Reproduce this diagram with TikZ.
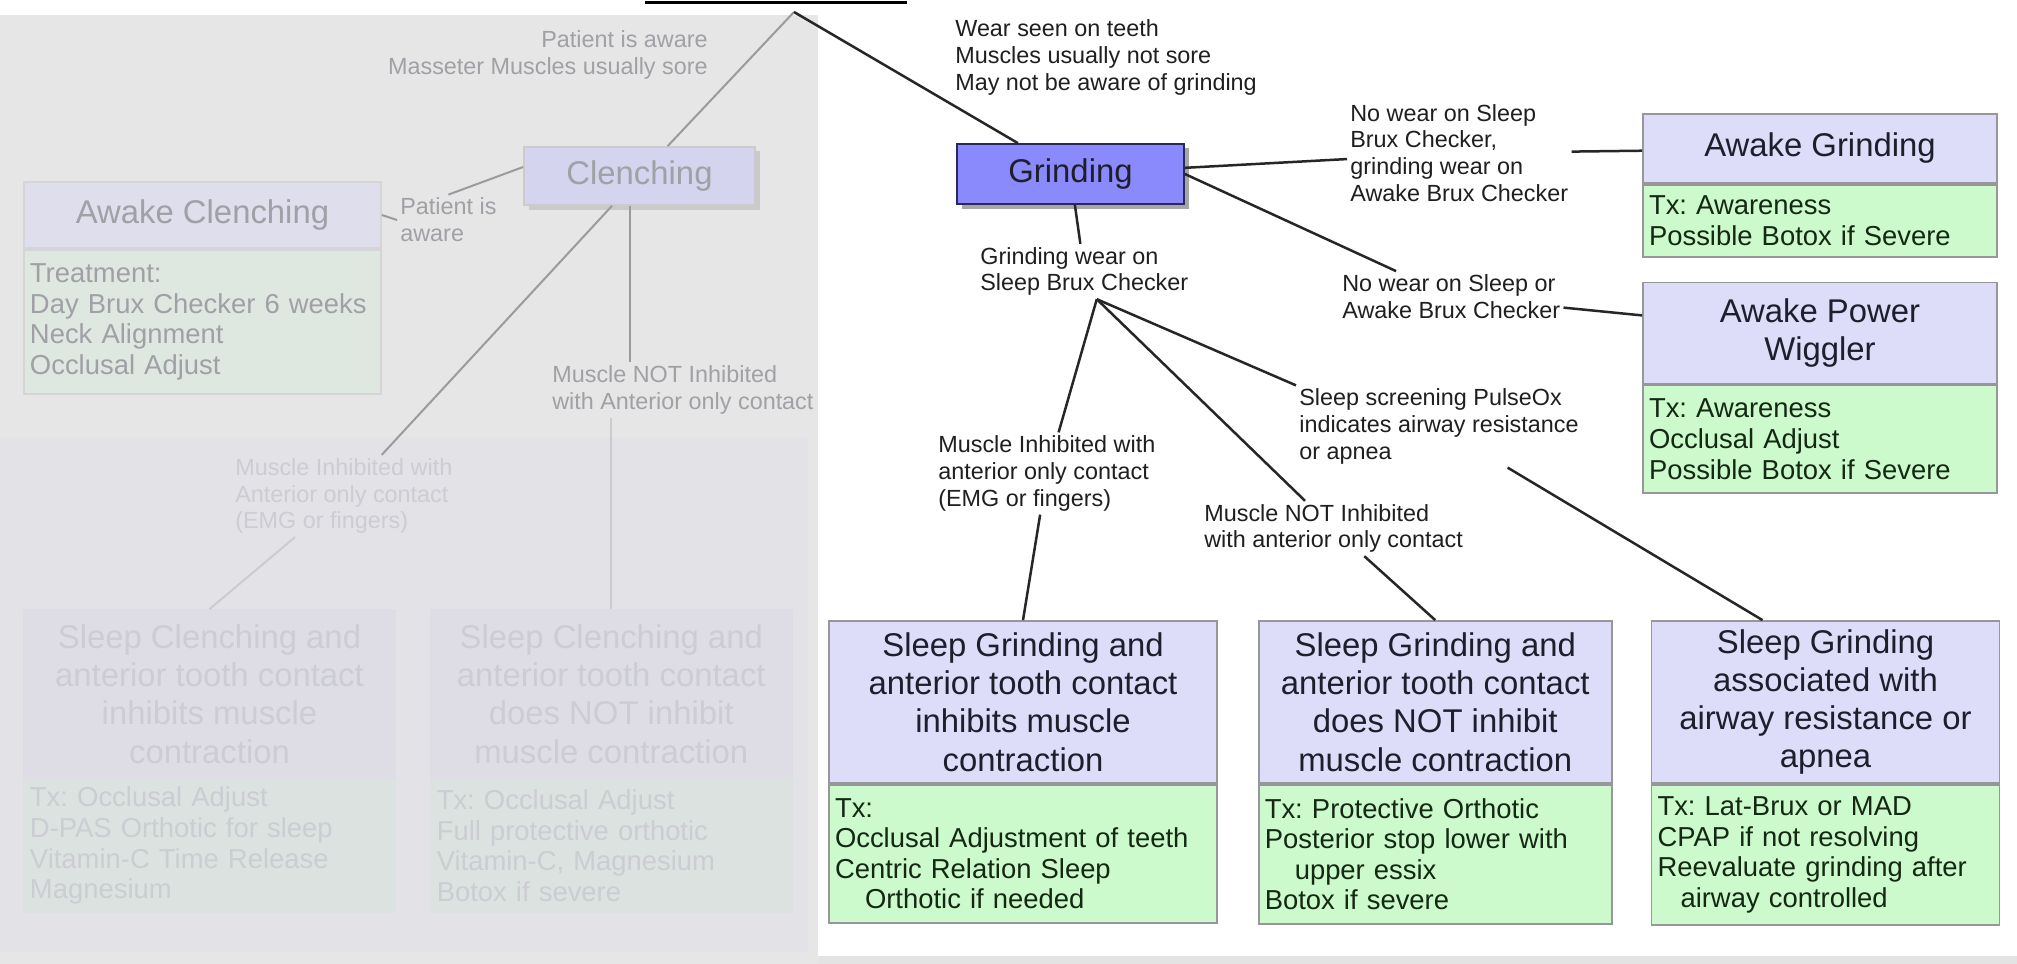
\documentclass[tikz,border=0pt]{standalone}
\usepackage{fontspec}
\setmainfont{Liberation Sans}
\usetikzlibrary{positioning,shadows,calc}
\frenchspacing

\definecolor{panelgray}{RGB}{230,230,230}
\definecolor{lowgray}{RGB}{227,226,230}
\definecolor{ttlfill}{RGB}{221,221,250}
\definecolor{txfill}{RGB}{204,250,204}
\definecolor{boxline}{RGB}{150,150,155}
\definecolor{ttltext}{RGB}{30,30,45}
\definecolor{txtext}{RGB}{20,40,20}
\definecolor{grindfill}{RGB}{138,138,252}
\definecolor{grindline}{RGB}{40,40,90}
\definecolor{fadeline}{RGB}{155,155,158}
\definecolor{fadetext}{RGB}{160,160,166}
\definecolor{fadettl}{RGB}{222,222,236}
\definecolor{fadetx}{RGB}{222,232,224}
\definecolor{paleline}{RGB}{203,203,208}
\definecolor{paletext}{RGB}{204,204,211}
\definecolor{palettl}{RGB}{222,221,229}
\definecolor{paletx}{RGB}{220,226,224}

\def\ttlfont{\fontsize{18.7}{21.8}\selectfont}
\def\txfont{\fontsize{15.6}{17.4}\selectfont}
\def\lblfont{\fontsize{13.3}{15.3}\selectfont}

\tikzset{
	ttl/.style={draw=boxline, line width=0.35mm, fill=ttlfill, text=ttltext, align=center, inner sep=0pt, font=\ttlfont},
	txb/.style={draw=boxline, line width=0.35mm, fill=txfill, text=txtext, align=left, inner xsep=1.2mm, inner ysep=0pt, font=\txfont},
	lbl/.style={align=left, inner sep=0.6mm, text=black!88, font=\lblfont},
	link/.style={line width=0.5mm, black!85},
	grindbox/.style={draw=grindline, line width=0.35mm, fill=grindfill, text=ttltext, font=\ttlfont, minimum width=45.4mm, minimum height=12mm, drop shadow={shadow xshift=0.9mm, shadow yshift=-0.9mm, opacity=0.35, fill=black}},
	% faded left half
	fttl/.style={ttl, draw=boxline!40, fill=fadettl, text=fadetext},
	ftxb/.style={txb, draw=boxline!40, fill=fadetx, text=fadetext},
	fttl2/.style={ttl, draw=palettl, fill=palettl, text=paletext},
	ftxb2/.style={txb, draw=paletx, fill=paletx, text=paletext},
	flbl/.style={lbl, text=fadetext},
	flbl2/.style={lbl, text=paletext},
	flink/.style={line width=0.4mm, fadeline},
	flink2/.style={line width=0.4mm, paleline},
	clenchbox/.style={draw=boxline!50, line width=0.35mm, fill={rgb,255:red,212;green,212;blue,238}, text=fadetext, font=\ttlfont, minimum width=46.2mm, minimum height=11.6mm, drop shadow={shadow xshift=0.9mm, shadow yshift=-0.9mm, opacity=0.12, fill=black}}
}

\begin{document}
\begin{tikzpicture}[x=0.2mm,y=-0.2mm]
			%%%%% START %%%%%
			\useasboundingbox (0,0) rectangle (2017,964);
			\fill[white] (0,0) rectangle (2017,964);
			\fill[panelgray] (0,15) rectangle (818,964);
			\fill[lowgray] (0,437) rectangle (808,952);
			\fill[black!11] (818,956) rectangle (2017,964);
			\draw[line width=0.6mm] (645,2.5) -- (907,2.5);
			
			\coordinate (apex) at (794,12);
			
			% faded clenching side
			\node[clenchbox] (clench) at (639.5,176) {Clenching};
			\node[flbl, anchor=east, align=right] (pam) at (711,55) {Patient is aware\\Masseter Muscles usually sore};
			\node[flbl, anchor=west] (pia) at (397,220) {Patient is\\aware};
			\node[flbl, anchor=west] (mnl) at (549,390) {Muscle NOT Inhibited\\with Anterior only contact};
			\node[flbl2, anchor=west] (mil) at (232,496) {Muscle Inhibited with\\Anterior only contact\\(EMG or fingers)};
			
			\node[fttl, minimum width=71.4mm, minimum height=13.2mm] (acl) at (202.5,215) {Awake Clenching};
			\node[ftxb, below=0pt of acl, text width=69mm, minimum height=28.8mm] (acltx) {Treatment:\\Day Brux Checker 6 weeks\\Neck Alignment\\Occlusal Adjust};
			
			\node[fttl2, minimum width=74.2mm, minimum height=33.6mm] (sc1) at (209.5,694) {Sleep Clenching and\\anterior tooth contact\\inhibits muscle\\contraction};
			\node[ftxb2, below=0pt of sc1, text width=71.8mm, minimum height=26.4mm] (sc1tx) {Tx: Occlusal Adjust\\D-PAS Orthotic for sleep\\Vitamin-C Time Release\\Magnesium};
			\node[fttl2, minimum width=72.2mm, minimum height=33.6mm, right=6.8mm of sc1] (sc2) {Sleep Clenching and\\anterior tooth contact\\does NOT inhibit\\muscle contraction};
			\node[ftxb2, below=0pt of sc2, text width=69.8mm, minimum height=26.4mm] (sc2tx) {Tx: Occlusal Adjust\\Full protective orthotic\\Vitamin-C, Magnesium\\Botox if severe};
			
			\draw[flink] (apex) -- (clench);
			\draw[flink] ([yshift=1.8mm]clench.west) -- (pia.north);
			\draw[flink] (pia.west) -- (acl.east);
			\draw[flink] (clench) -- (mil);
			\draw[flink2] (mil) -- (sc1.north);
			\draw[flink] ([xshift=-2mm]clench.south) -- ([xshift=-2mm]clench.south |- mnl.north);
			\draw[flink2] (sc2.north |- mnl.south) -- (sc2.north);
			
			% grinding side
			\node[grindbox] (grind) at (1070.5,174) {Grinding};
			\node[lbl, anchor=west] (wear) at (952,57.5) {Wear seen on teeth\\Muscles usually not sore\\May not be aware of grinding};
			\node[lbl, anchor=west] (lblA) at (1347,153) {No wear on Sleep\\Brux Checker,\\grinding wear on\\Awake Brux Checker};
			\node[lbl, anchor=west] (lblB) at (1339,296.5) {No wear on Sleep or\\Awake Brux Checker};
			\node[lbl, anchor=west] (lblC) at (977,271.5) {Grinding wear on\\Sleep Brux Checker};
			\node[lbl, anchor=west] (lblD) at (935,473.5) {Muscle Inhibited with\\anterior only contact\\(EMG or fingers)};
			\node[lbl, anchor=west] (lblE) at (1201,528.5) {Muscle NOT Inhibited\\with anterior only contact};
			\node[lbl, anchor=west] (lblF) at (1296,426.5) {Sleep screening PulseOx\\indicates airway resistance\\or apnea};
			
			\node[ttl, minimum width=70.8mm, minimum height=13.8mm] (awkG) at (1820,148.5) {Awake Grinding};
			\node[txb, below=0pt of awkG, text width=68.4mm, minimum height=14.4mm] (awkGtx) {Tx: Awareness\\Possible Botox if Severe};
			\node[ttl, minimum width=70.8mm, minimum height=20.2mm, below=4.8mm of awkGtx] (awkW) {Awake Power\\Wiggler};
			\node[txb, below=0pt of awkW, text width=68.4mm, minimum height=21.6mm] (awkWtx) {Tx: Awareness\\Occlusal Adjust\\Possible Botox if Severe};
			
			\node[ttl, minimum width=77.6mm, minimum height=32.4mm] (sg1) at (1023,702) {Sleep Grinding and\\anterior tooth contact\\inhibits muscle\\contraction};
			\node[txb, below=0pt of sg1, text width=75.2mm, minimum height=27.6mm] (sg1tx) {Tx:\\Occlusal Adjustment of teeth\\Centric Relation Sleep\\\hspace*{6mm}Orthotic if needed};
			\node[ttl, minimum width=70.6mm, minimum height=32.4mm, right=8mm of sg1] (sg2) {Sleep Grinding and\\anterior tooth contact\\does NOT inhibit\\muscle contraction};
			\node[txb, below=0pt of sg2, text width=68.2mm, minimum height=27.8mm] (sg2tx) {Tx: Protective Orthotic\\Posterior stop lower with\\\hspace*{6mm}upper essix\\Botox if severe};
			\node[ttl, minimum width=69.6mm, minimum height=32.4mm, right=7.6mm of sg2] (sg3) {Sleep Grinding\\associated with\\airway resistance or\\apnea};
			\node[txb, below=0pt of sg3, text width=67.2mm, minimum height=28mm] (sg3tx) {Tx: Lat-Brux or MAD\\CPAP if not resolving\\Reevaluate grinding after\\\hspace*{4.6mm}airway controlled};
			
			\coordinate (fork) at ([xshift=2.5mm]lblC.south);
			
			\draw[link] (apex) -- (grind);
			\draw[link] (grind) -- (lblA);
			\draw[link] (lblA) -- (awkG);
			\draw[link] (grind.east) -- (lblB);
			\draw[link] (lblB) -- (awkW);
			\draw[link] (grind) -- (lblC);
			\draw[link] (fork) -- (lblD);
			\draw[link] (fork) -- (lblE);
			\draw[link] (fork) -- (lblF.north west);
			\draw[link] (lblD) -- (sg1.north);
			\draw[link] (lblE) -- (sg2.north);
			\draw[link] (lblF) -- ([xshift=-12.6mm]sg3.north);
			
			%%%%% END %%%%%
\end{tikzpicture}
\end{document}
